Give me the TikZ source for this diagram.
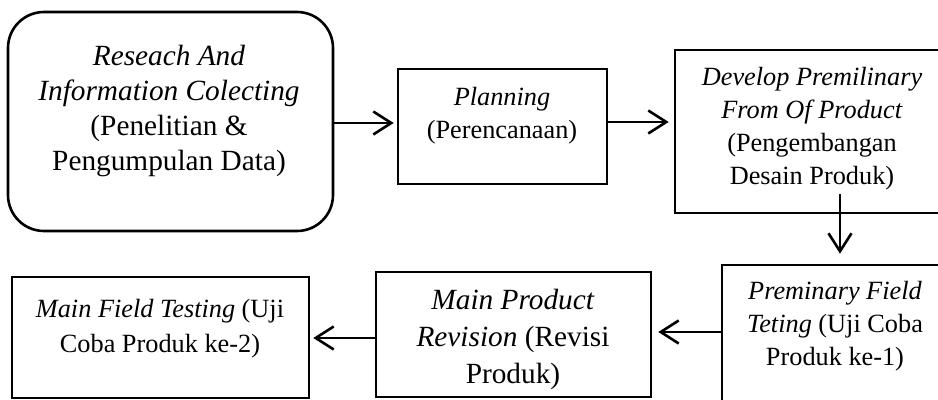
\documentclass[tikz,border=0pt]{standalone}
\usepackage{fontspec}
\setmainfont{Liberation Serif}
\usetikzlibrary{arrows.meta,fit,calc}

\tikzset{
  stagebox/.style={draw, line width=1.3pt, inner sep=0pt, rectangle},
  roundbox/.style={stagebox, rounded corners=18pt},
  label13/.style={align=center, anchor=north, inner sep=0pt,
    font=\fontsize{13.15pt}{16.5pt}\selectfont},
  label15/.style={align=center, anchor=north, inner sep=0pt,
    font=\fontsize{14.65pt}{17.5pt}\selectfont},
  flow/.style={line width=1.3pt, -{Straight Barb[length=9pt,width=11.5pt,line width=1.3pt]}}
}

\begin{document}
\begin{tikzpicture}[x=0.5pt, y=-0.5pt]
  \path[use as bounding box] (0,0) rectangle (938,400);
  \clip (0,0) rectangle (938,400);

  % reference levels for the connectors
  \coordinate (r0) at (0,123);
  \coordinate (r1) at (0,122);
  \coordinate (r2) at (0,332);
  \coordinate (r3) at (0,338);
  \coordinate (c3) at (840,0);

  % stage boxes
  \node[roundbox, fit={(8,12) (333,231)}] (b1) {};
  \node[stagebox, fit={(398,69) (607,184)}] (b2) {};
  \node[stagebox, fit={(675,50) (948,213)}] (b3) {};
  \node[stagebox, fit={(722,265) (948,420)}] (b4) {};
  \node[stagebox, fit={(376,272) (651,397)}] (b5) {};
  \node[stagebox, fit={(12,277) (309,398)}] (b6) {};

  % stage texts
  \node[label15] (t1) at (169,45)
    {\textit{Reseach And}\\\textit{Information Colecting}\\(Penelitian \&\\Pengumpulan Data)};
  \node[label13] (t2) at (502,87) {\textit{Planning}\\(Perencanaan)};
  \node[label13] (t3) at (812,67)
    {\textit{Develop Premilinary}\\\textit{From Of Product}\\(Pengembangan\\Desain Produk)};
  \node[label13] (t4) at (835,281)
    {\textit{Preminary Field}\\\textit{Teting} (Uji Coba\\Produk ke-1)};
  \node[label15, font=\fontsize{14.65pt}{18.5pt}\selectfont] (t5) at (513,289)
    {\textit{Main Product}\\\textit{Revision} (Revisi\\Produk)};
  \node[label13, font=\fontsize{13.15pt}{17.25pt}\selectfont] (t6) at (160,299)
    {\textit{Main Field Testing} (Uji\\Coba Produk ke-2)};

  % connectors
  \draw[flow] (b1.east |- r0) -- ($(b2.west |- r0)+(-3,0)$);
  \draw[flow] (b2.east |- r1) -- ($(b3.west |- r1)+(-5,0)$);
  \draw[flow] ($(b3.south -| c3)+(0,-20)$) -- ($(b4.north -| c3)+(0,-10)$);
  \draw[flow] (b4.west |- r2) -- ($(b5.east |- r2)+(6,0)$);
  \draw[flow] (b5.west |- r3) -- ($(b6.east |- r3)+(3,0)$);
\end{tikzpicture}
\end{document}
